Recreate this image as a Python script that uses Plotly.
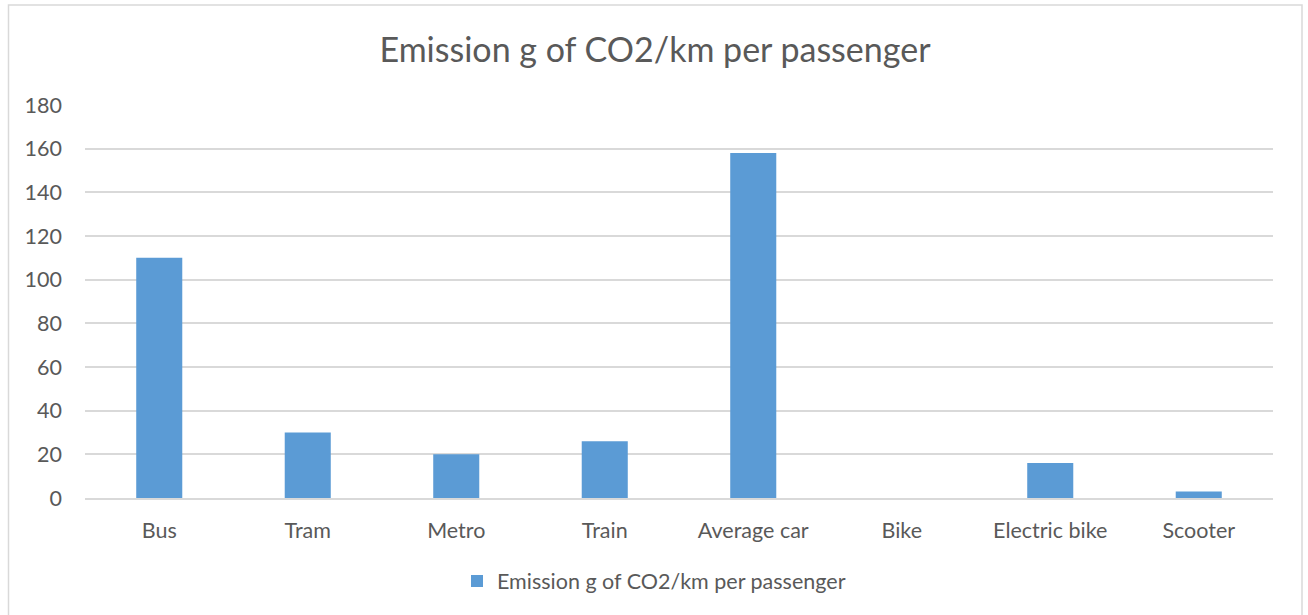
import plotly.graph_objects as go

categories = ["Bus", "Tram", "Metro", "Train", "Average car", "Bike", "Electric bike", "Scooter"]
values = [110, 30, 20, 26, 158, 0, 16, 3]
series_name = "Emission g of CO2/km per passenger"
title_text = "Emission g of CO2/km per passenger"
y_ticks = [0, 20, 40, 60, 80, 100, 120, 140, 160, 180]

FONT = "Lato"
GREY = "#595959"

W, H = 1308, 615
ml, mr, mt, mb = 85, 35, 105, 117
pw, ph = W - ml - mr, H - mt - mb

fig = go.Figure()
fig.add_trace(go.Bar(
    x=categories, y=values, name=series_name,
    marker=dict(color="#5B9BD5", line=dict(width=0)),
    showlegend=True,
))

def px_x(p):
    return (p - ml) / pw

def px_y(p):
    return (H - mb - p) / ph

fig.update_layout(
    width=W, height=H,
    margin=dict(l=ml, r=mr, t=mt, b=mb, autoexpand=False),
    paper_bgcolor="white", plot_bgcolor="white",
    bargap=0.69,
    font=dict(family=FONT, color=GREY, size=21),
    title=dict(text=title_text, x=655 / W, xref="container", xanchor="center",
               y=1 - 50 / H, yanchor="middle", yref="container",
               font=dict(family=FONT, size=34, color=GREY)),
    xaxis=dict(showgrid=False, showline=True, linecolor="#d9d9d9", linewidth=1.5,
               ticks="", tickfont=dict(size=21.5, color=GREY), ticklabelstandoff=12,
               tickangle=0, automargin=False),
    yaxis=dict(range=[0, 180], tickvals=y_ticks, showgrid=True, gridcolor="#d9d9d9",
               gridwidth=1.5, zeroline=False, showline=False, ticks="",
               tickfont=dict(size=21.5, color=GREY), ticklabelstandoff=22,
               automargin=False),
    legend=dict(orientation="h", x=px_x(654), xanchor="center", xref="paper",
                y=px_y(581), yanchor="middle", yref="paper",
                font=dict(size=21.5, color=GREY), bgcolor="rgba(0,0,0,0)"),
    shapes=[dict(type="rect", xref="paper", yref="paper",
                 x0=px_x(8.5), x1=px_x(1302), y0=px_y(620), y1=px_y(5),
                 line=dict(color="#d9d9d9", width=1.5), fillcolor="rgba(0,0,0,0)",
                 layer="below")],
)

fig.write_html("out.html")
